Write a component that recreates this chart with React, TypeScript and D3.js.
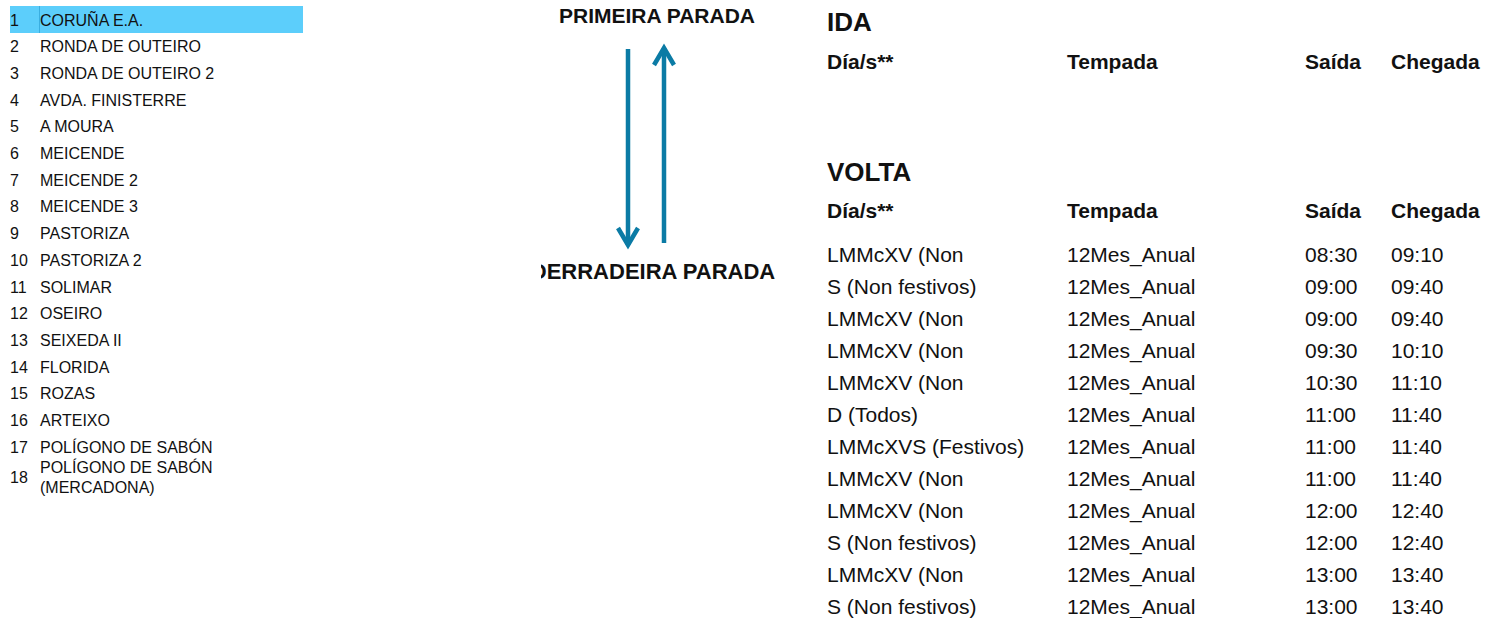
import * as d3 from 'd3';

// route stops, left list
const stops = [
  'CORUÑA E.A.', 'RONDA DE OUTEIRO', 'RONDA DE OUTEIRO 2', 'AVDA. FINISTERRE', 'A MOURA',
  'MEICENDE', 'MEICENDE 2', 'MEICENDE 3', 'PASTORIZA', 'PASTORIZA 2', 'SOLIMAR', 'OSEIRO',
  'SEIXEDA II', 'FLORIDA', 'ROZAS', 'ARTEIXO', 'POLÍGONO DE SABÓN', 'POLÍGONO DE SABÓN\n(MERCADONA)',
];
const activeStop = 0;

const firstLabel = 'PRIMEIRA PARADA';
const lastLabel = 'DERRADEIRA PARADA';

const headers = ['Día/s**', 'Tempada', 'Saída', 'Chegada'];
const sections = ['IDA', 'VOLTA'];

// VOLTA timetable (IDA has no services)
const dias = [
  'LMMcXV (Non', 'S (Non festivos)', 'LMMcXV (Non', 'LMMcXV (Non', 'LMMcXV (Non', 'D (Todos)',
  'LMMcXVS (Festivos)', 'LMMcXV (Non', 'LMMcXV (Non', 'S (Non festivos)', 'LMMcXV (Non', 'S (Non festivos)',
];
const tempadas = Array.from({ length: 12 }, () => '12Mes_Anual');
const saidas = ['08:30', '09:00', '09:00', '09:30', '10:30', '11:00', '11:00', '11:00', '12:00', '12:00', '13:00', '13:00'];
const chegadas = ['09:10', '09:40', '09:40', '10:10', '11:10', '11:40', '11:40', '11:40', '12:40', '12:40', '13:40', '13:40'];

const W = 1485;
const H = 618;
const FONT = '"Liberation Sans", Arial, Helvetica, sans-serif';
const ARROW = '#0b7ba5';

export default function App() {
  const listY = d3.scaleLinear().domain([0, stops.length - 1]).range([25.5, 25.5 + 17 * 26.7]);

  const colX = d3.scaleOrdinal<string, number>().domain(headers).range([827, 1067, 1305, 1391]);
  const rowY = d3.scaleLinear().domain([0, dias.length - 1]).range([262, 262 + 11 * 32]);
  const sectionY = d3.scaleOrdinal<string, number>().domain(sections).range([31, 181]);
  const headerY = d3.scaleOrdinal<string, number>().domain(sections).range([69, 218]);

  const arrowY = d3.scaleLinear().domain([0, 1]).range([49, 246]);
  const downX = 628;
  const upX = 664;

  const rows = dias.map((d, i) => [d, tempadas[i], saidas[i], chegadas[i]]);

  return (
    <svg
      width={W}
      height={H}
      style={{ position: 'absolute', left: 0, top: 0, background: '#fff' }}
      fontFamily={FONT}
    >
      <defs>
        <clipPath id="mid-clip">
          <rect x={541} y={0} width={260} height={H} />
        </clipPath>
      </defs>

      {/* stop list */}
      <g>
        <rect x={10} y={listY(activeStop) - 19.5} width={293} height={27} fill="#5ccefb" />
        <line x1={39.5} x2={39.5} y1={listY(activeStop) - 19.5} y2={listY(activeStop) + 7.5} stroke="#3aaee0" strokeWidth={1} />
        {stops.map((s, i) => {
          const lines = s.split('\n');
          const y = listY(i);
          if (lines.length > 1) {
            return (
              <g key={i} fontSize={16} fill="#111">
                <text x={10} y={y + 4}>{i + 1}</text>
                {lines.map((l, j) => (
                  <text key={j} x={40} y={y - 6 + j * 20}>{l}</text>
                ))}
              </g>
            );
          }
          return (
            <g key={i} fontSize={16} fill="#111">
              <text x={10} y={y}>{i + 1}</text>
              <text x={40} y={y}>{s}</text>
            </g>
          );
        })}
      </g>

      {/* direction labels, the lower one clipped on the left */}
      <g clipPath="url(#mid-clip)" fontWeight="bold" fill="#111" textAnchor="middle">
        <text x={657} y={23} fontSize={21}>{firstLabel}</text>
        <text x={653} y={279} fontSize={22}>{lastLabel}</text>
      </g>
      <g stroke={ARROW} strokeWidth={4.5} fill="none" strokeLinecap="butt">
        <line x1={downX} x2={downX} y1={arrowY(0)} y2={arrowY(1) - 1} />
        <polyline
          points={`${downX - 10},${arrowY(1) - 18} ${downX},${arrowY(1) - 1} ${downX + 10},${arrowY(1) - 18}`}
          strokeLinejoin="miter"
        />
        <line x1={upX} x2={upX} y1={arrowY(1) - 3} y2={arrowY(0) - 1} />
        <polyline
          points={`${upX - 10},${arrowY(0) + 16} ${upX},${arrowY(0) - 1} ${upX + 10},${arrowY(0) + 16}`}
          strokeLinejoin="miter"
        />
      </g>

      {/* timetable */}
      {sections.map((sec) => (
        <g key={sec} fill="#111">
          <text x={colX(headers[0])} y={sectionY(sec)} fontSize={26} fontWeight="bold">{sec}</text>
          {headers.map((h) => (
            <text key={h} x={colX(h)} y={headerY(sec)} fontSize={21} fontWeight="bold">{h}</text>
          ))}
        </g>
      ))}
      <g fill="#111" fontSize={21}>
        {rows.map((r, i) => (
          <g key={i}>
            {r.map((v, j) => (
              <text key={j} x={colX(headers[j])} y={rowY(i)}>{v}</text>
            ))}
          </g>
        ))}
      </g>
    </svg>
  );
}
